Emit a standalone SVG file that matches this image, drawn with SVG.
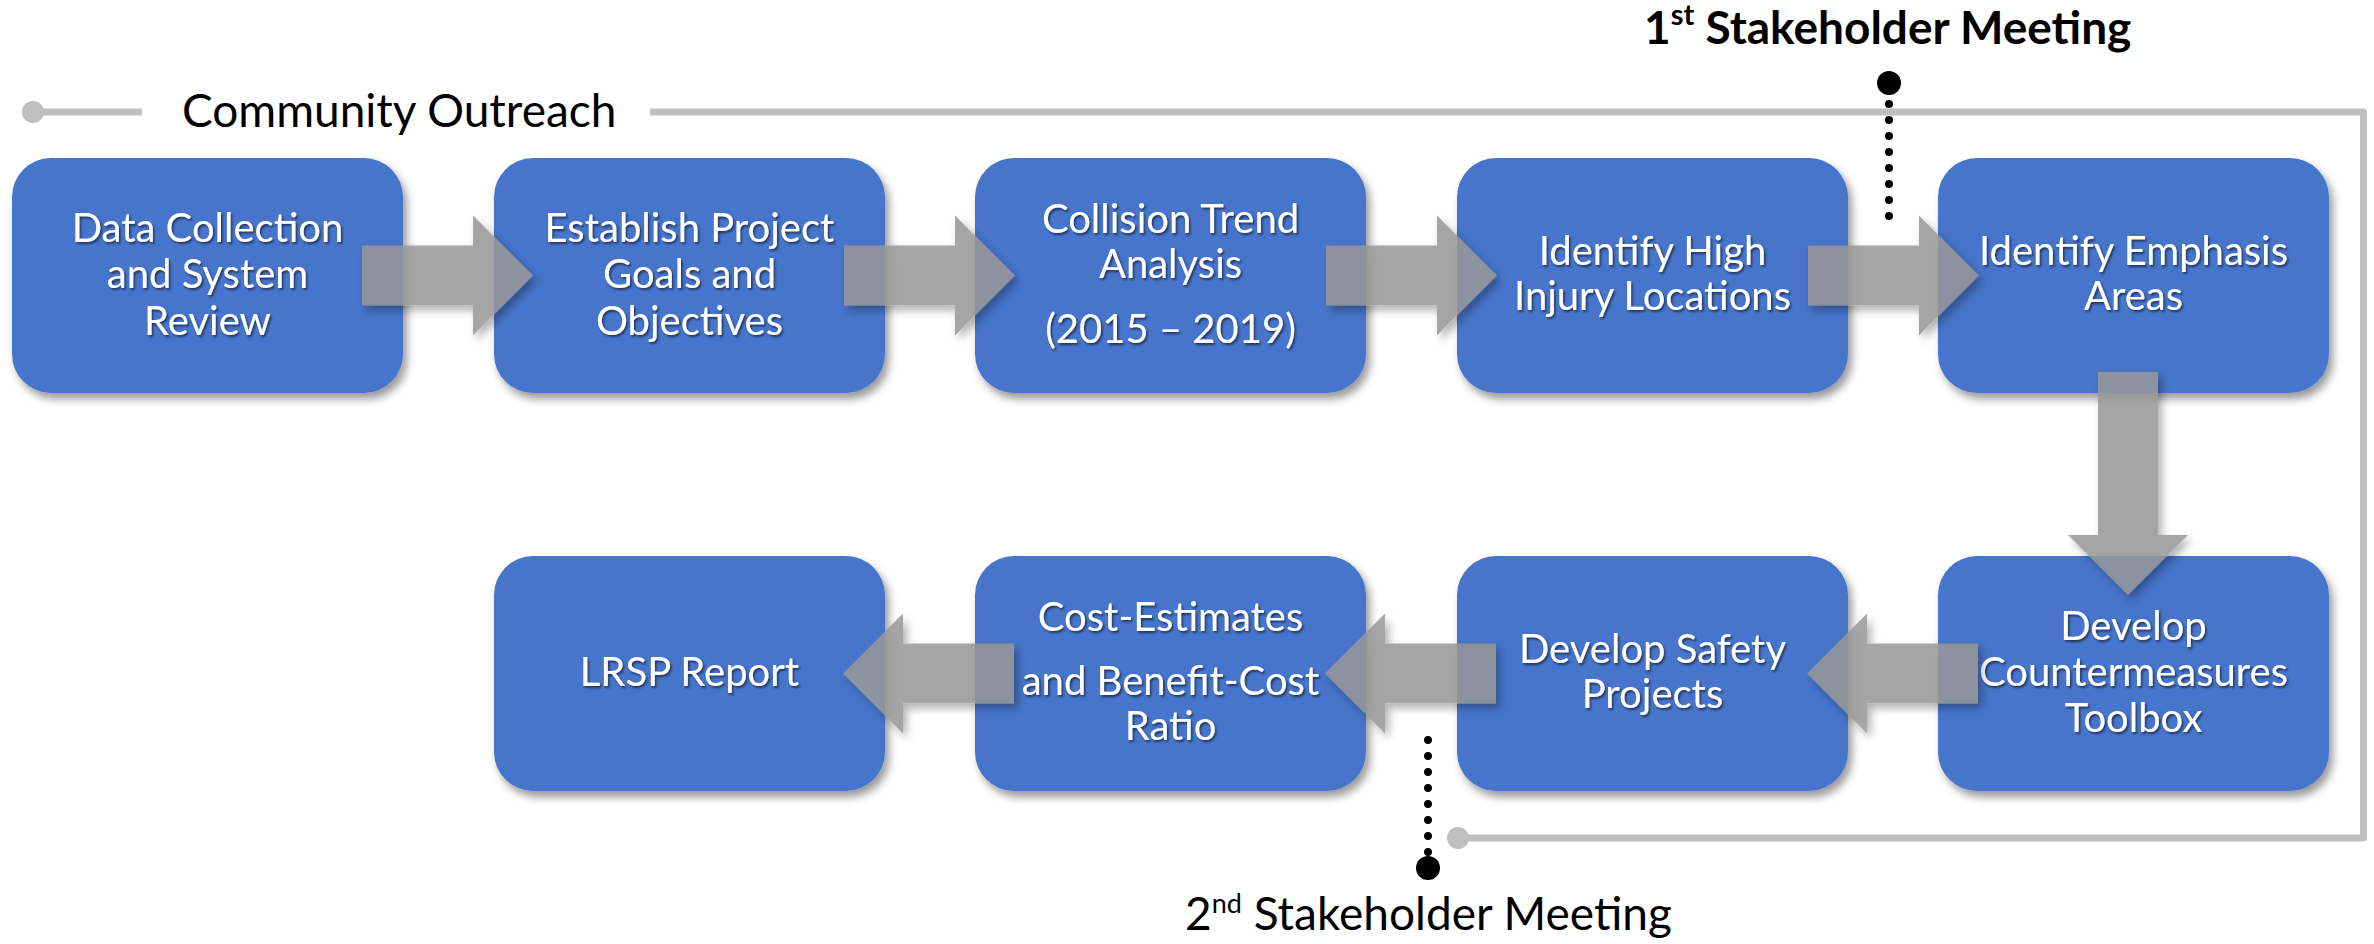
<svg xmlns="http://www.w3.org/2000/svg" width="2374" height="944" viewBox="0 0 2374 944">
  <defs>
    <filter id="boxShadow" x="-10%" y="-10%" width="125%" height="125%">
      <feDropShadow dx="4" dy="6" stdDeviation="4" flood-color="#000" flood-opacity="0.4"/>
    </filter>
    <filter id="arrowShadow" x="-20%" y="-20%" width="150%" height="150%">
      <feGaussianBlur in="SourceAlpha" stdDeviation="4" result="blur"/>
      <feOffset in="blur" dx="4" dy="5" result="off"/>
      <feComposite in="off" in2="SourceAlpha" operator="out" result="outside"/>
      <feFlood flood-color="#000" flood-opacity="0.35" result="col"/>
      <feComposite in="col" in2="outside" operator="in" result="shadow"/>
      <feMerge>
        <feMergeNode in="shadow"/>
        <feMergeNode in="SourceGraphic"/>
      </feMerge>
    </filter>
    <filter id="textShadow" x="-5%" y="-20%" width="110%" height="150%">
      <feDropShadow dx="1.5" dy="2" stdDeviation="1" flood-color="#000" flood-opacity="0.55"/>
    </filter>
  </defs>
  <style>
    .box { fill: #4775CB; filter: url(#boxShadow); }
    .lbl { font-family: Lato, "Liberation Sans", sans-serif; font-size: 40px; fill: #FFFFFF; text-anchor: middle; filter: url(#textShadow); }
    .arrow { fill: #979797; fill-opacity: 0.86; filter: url(#arrowShadow); }
    .outreach { fill: none; stroke: #BFBFBF; stroke-width: 7; stroke-linejoin: round; }
    .grayDot { fill: #BFBFBF; }
    .dots { fill: none; stroke: #000; stroke-width: 8; stroke-linecap: round; stroke-dasharray: 0 16; }
    .title { font-family: Lato, "Liberation Sans", sans-serif; font-size: 46px; fill: #000; }
  </style>
  <rect width="2374" height="944" fill="#FFFFFF"/>

  <!-- Community outreach timeline -->
  <g id="outreach">
    <circle class="grayDot" cx="33" cy="112" r="11"/>
    <path class="outreach" d="M33 112 H142"/>
    <path class="outreach" d="M650 112 H2363.5 V838 H1458"/>
    <circle class="grayDot" cx="1458" cy="838" r="11"/>
    <text class="title" x="182" y="127">Community Outreach</text>
  </g>

  <!-- Stakeholder meetings -->
  <g id="meeting1">
    <path class="dots" d="M1889 104 V217"/>
    <circle cx="1889" cy="83" r="12" fill="#000"/>
    <text class="title" x="1644" y="44" font-size="50" font-weight="bold">1<tspan font-size="29" dy="-19">st</tspan><tspan dy="19"> Stakeholder Meeting</tspan></text>
  </g>
  <g id="meeting2">
    <path class="dots" d="M1428 740 V853"/>
    <circle cx="1428" cy="868" r="12" fill="#000"/>
    <text class="title" x="1185" y="930" font-size="44">2<tspan font-size="27" dy="-17">nd</tspan><tspan dy="17"> Stakeholder Meeting</tspan></text>
  </g>

  <!-- Row 1 nodes -->
  <g id="node-data">
    <rect class="box" x="12" y="158" width="391" height="235" rx="39"/>
    <text class="lbl"><tspan x="207.5" y="242">Data Collection</tspan><tspan x="207.5" y="288">and System</tspan><tspan x="207.5" y="335">Review</tspan></text>
  </g>
  <g id="node-goals">
    <rect class="box" x="494" y="158" width="391" height="235" rx="39"/>
    <text class="lbl"><tspan x="689.5" y="242">Establish Project</tspan><tspan x="689.5" y="288">Goals and</tspan><tspan x="689.5" y="335">Objectives</tspan></text>
  </g>
  <g id="node-collision">
    <rect class="box" x="975" y="158" width="391" height="235" rx="39"/>
    <text class="lbl"><tspan x="1170.5" y="233">Collision Trend</tspan><tspan x="1170.5" y="278">Analysis</tspan><tspan x="1170.5" y="343">(2015 – 2019)</tspan></text>
  </g>
  <g id="node-high-injury">
    <rect class="box" x="1457" y="158" width="391" height="235" rx="39"/>
    <text class="lbl"><tspan x="1652.5" y="265">Identify High</tspan><tspan x="1652.5" y="310">Injury Locations</tspan></text>
  </g>
  <g id="node-emphasis">
    <rect class="box" x="1938" y="158" width="391" height="235" rx="39"/>
    <text class="lbl"><tspan x="2133.5" y="265">Identify Emphasis</tspan><tspan x="2133.5" y="310">Areas</tspan></text>
  </g>

  <!-- Row 2 nodes -->
  <g id="node-countermeasures">
    <rect class="box" x="1938" y="556" width="391" height="235" rx="39"/>
    <text class="lbl"><tspan x="2133.5" y="640">Develop</tspan><tspan x="2133.5" y="686">Countermeasures</tspan><tspan x="2133.5" y="732">Toolbox</tspan></text>
  </g>
  <g id="node-safety-projects">
    <rect class="box" x="1457" y="556" width="391" height="235" rx="39"/>
    <text class="lbl"><tspan x="1652.5" y="663">Develop Safety</tspan><tspan x="1652.5" y="708">Projects</tspan></text>
  </g>
  <g id="node-cost">
    <rect class="box" x="975" y="556" width="391" height="235" rx="39"/>
    <text class="lbl"><tspan x="1170.5" y="631">Cost-Estimates</tspan><tspan x="1170.5" y="695">and Benefit-Cost</tspan><tspan x="1170.5" y="740">Ratio</tspan></text>
  </g>
  <g id="node-report">
    <rect class="box" x="494" y="556" width="391" height="235" rx="39"/>
    <text class="lbl" x="689.5" y="686">LRSP Report</text>
  </g>

  <!-- Connectors -->
  <g id="connectors">
    <path class="arrow" d="M362 245.5 H473 V215.5 L533 275.5 L473 335.5 V305.5 H362 Z"/>
    <path class="arrow" d="M844 245.5 H955 V215.5 L1015 275.5 L955 335.5 V305.5 H844 Z"/>
    <path class="arrow" d="M1326 245.5 H1437 V215.5 L1497 275.5 L1437 335.5 V305.5 H1326 Z"/>
    <path class="arrow" d="M1808 245.5 H1919 V215.5 L1979 275.5 L1919 335.5 V305.5 H1808 Z"/>
    <path class="arrow" d="M2098 372 H2158 V535 H2188 L2128 595 L2068 535 H2098 Z"/>
    <path class="arrow" d="M1978 643.5 H1867 V613.5 L1807 673.5 L1867 733.5 V703.5 H1978 Z"/>
    <path class="arrow" d="M1496 643.5 H1385 V613.5 L1325 673.5 L1385 733.5 V703.5 H1496 Z"/>
    <path class="arrow" d="M1014 643.5 H903 V613.5 L843 673.5 L903 733.5 V703.5 H1014 Z"/>
  </g>
</svg>
